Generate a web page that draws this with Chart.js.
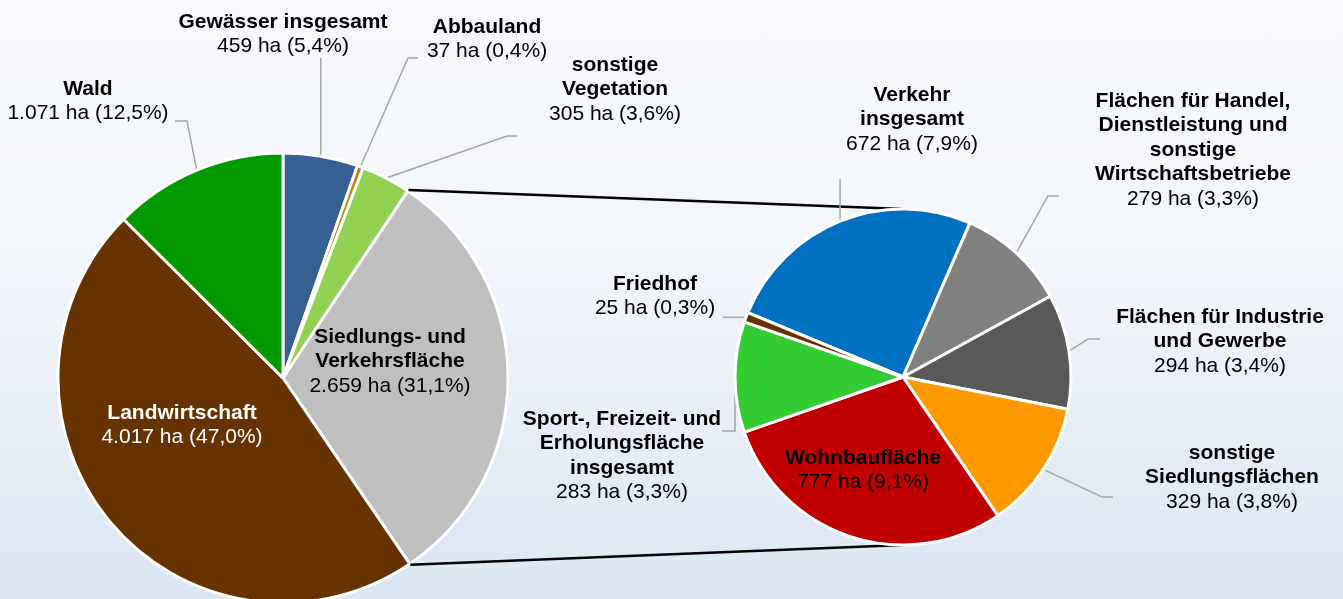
<!DOCTYPE html>
<html lang="de">

<head>
    <meta charset="UTF-8">
    <script src="https://cdn.jsdelivr.net/npm/chart.js@4.4.0/dist/chart.umd.min.js"></script>
    <title>Flächennutzung</title>
    <style>
        body {
            margin: 0;
        }

        #wrap {
            position: relative;
            width: 1343px;
            height: 599px;
            overflow: hidden;
            background: linear-gradient(to bottom, #f6f8fc 0%, #f3f6fb 40%, #dce6f2 100%);
        }

        #wrap canvas {
            position: absolute;
            left: 0;
            top: 0;
        }
    </style>
</head>

<body>
    <div id="wrap">
        <canvas id="leftPie" width="1343" height="599"></canvas>
        <canvas id="rightPie" width="1343" height="599"></canvas>
    </div>
    <script>
        // Hauptkreis
        const leftLabels = [
            ['Gewässer insgesamt'],
            ['Abbauland'],
            ['sonstige', 'Vegetation'],
            ['Siedlungs- und', 'Verkehrsfläche'],
            ['Landwirtschaft'],
            ['Wald']
        ];
        const leftValues = [459, 37, 305, 2659, 4017, 1071];
        const leftColors = ['#366092', '#b8860b', '#92d050', '#bfbfbf', '#663300', '#009900'];

        // Aufteilung Siedlungs- und Verkehrsfläche
        const rightLabels = [
            ['Verkehr', 'insgesamt'],
            ['Flächen für Handel,', 'Dienstleistung und', 'sonstige', 'Wirtschaftsbetriebe'],
            ['Flächen für Industrie', 'und Gewerbe'],
            ['sonstige', 'Siedlungsflächen'],
            ['Wohnbaufläche'],
            ['Sport-, Freizeit- und', 'Erholungsfläche', 'insgesamt'],
            ['Friedhof']
        ];
        const rightValues = [672, 279, 294, 329, 777, 283, 25];
        const rightColors = ['#0070c0', '#808080', '#595959', '#ff9900', '#c00000', '#33cc33', '#663300'];

        const total = leftValues.reduce((a, b) => a + b, 0);

        function fmtHa(v) {
            return String(v).replace(/\B(?=(\d{3})+(?!\d))/g, '.') + ' ha (' +
                (v / total * 100).toFixed(1).replace('.', ',') + '%)';
        }

        const FONT = "'Liberation Sans', Arial, sans-serif";
        const SIZE = 21;
        const LH = 24.5;

        // label layout: text centre x, first line y, text colour, leader points
        // (null in a leader point = take that coordinate from the slice edge point)
        const leftLayout = [
            { x: 283, y: 22, color: '#000', leader: [[null, 58]] },
            { x: 487, y: 27, color: '#000', leader: [[408, 58], [418, 58]] },
            { x: 615, y: 65, color: '#000', leader: [[507, 136], [517, 136]] },
            { x: 390, y: 337, color: '#000' },
            { x: 182, y: 413, color: '#fff' },
            { x: 88, y: 89, color: '#000', leader: [[187, 121], [175, 121]] }
        ];
        const rightLayout = [
            { x: 912, y: 95, color: '#000', leader: [[null, 179]] },
            { x: 1193, y: 101, color: '#000', leader: [[1048, 196], [1059, 196]] },
            { x: 1220, y: 317, color: '#000', leader: [[1088, 339], [1100, 339]] },
            { x: 1232, y: 453, color: '#000', leader: [[1102, 497], [1113, 497]] },
            { x: 863, y: 458, color: '#000' },
            { x: 622, y: 419, color: '#000', leader: [[null, 431], [722, 431]] },
            { x: 655, y: 284, color: '#000', leader: [[723, null]] }
        ];

        function edgePoint(arc) {
            const mid = (arc.startAngle + arc.endAngle) / 2;
            return [arc.x + Math.cos(mid) * arc.outerRadius, arc.y + Math.sin(mid) * arc.outerRadius];
        }

        function labelPlugin(labels, values, layout) {
            return {
                id: 'pieLabels',
                beforeDatasetsDraw(chart) {
                    const ctx = chart.ctx;
                    const arcs = chart.getDatasetMeta(0).data;
                    ctx.save();
                    ctx.strokeStyle = '#a6a6a6';
                    ctx.lineWidth = 1.5;
                    layout.forEach((l, i) => {
                        if (!l.leader) return;
                        const p = edgePoint(arcs[i]);
                        ctx.beginPath();
                        ctx.moveTo(p[0], p[1]);
                        l.leader.forEach(q => ctx.lineTo(q[0] === null ? p[0] : q[0], q[1] === null ? p[1] : q[1]));
                        ctx.stroke();
                    });
                    ctx.restore();
                },
                afterDatasetsDraw(chart) {
                    const ctx = chart.ctx;
                    ctx.save();
                    ctx.textAlign = 'center';
                    ctx.textBaseline = 'middle';
                    layout.forEach((l, i) => {
                        ctx.fillStyle = l.color;
                        let y = l.y;
                        ctx.font = 'bold ' + SIZE + 'px ' + FONT;
                        labels[i].forEach(line => {
                            ctx.fillText(line, l.x, y);
                            y += LH;
                        });
                        ctx.font = SIZE + 'px ' + FONT;
                        ctx.fillText(fmtHa(values[i]), l.x, y);
                    });
                    ctx.restore();
                }
            };
        }

        const commonOptions = {
            responsive: false,
            animation: false,
            events: [],
            plugins: {
                legend: { display: false },
                tooltip: { enabled: false }
            }
        };

        const leftChart = new Chart(document.getElementById('leftPie'), {
            type: 'pie',
            data: {
                labels: leftLabels,
                datasets: [{
                    data: leftValues,
                    backgroundColor: leftColors,
                    borderColor: '#ffffff',
                    borderWidth: 3,
                    clip: false
                }]
            },
            options: Object.assign({}, commonOptions, {
                radius: 225,
                rotation: 0,
                layout: { padding: { left: 0, right: 777, top: 157, bottom: 0 } }
            }),
            plugins: [labelPlugin(leftLabels, leftValues, leftLayout)]
        });

        // black connector lines from the split slice to the second pie
        const connectorPlugin = {
            id: 'connector',
            beforeDatasetsDraw(chart) {
                const src = leftChart.getDatasetMeta(0).data[3];
                const dst = chart.getDatasetMeta(0).data[0];
                const ctx = chart.ctx;
                ctx.save();
                ctx.strokeStyle = '#000';
                ctx.lineWidth = 2.5;
                const r = src.outerRadius + 1;
                ctx.beginPath();
                ctx.moveTo(src.x + Math.cos(src.startAngle) * r, src.y + Math.sin(src.startAngle) * r);
                ctx.lineTo(dst.x, dst.y - dst.outerRadius);
                ctx.moveTo(src.x + Math.cos(src.endAngle) * r, src.y + Math.sin(src.endAngle) * r);
                ctx.lineTo(dst.x, dst.y + dst.outerRadius);
                ctx.stroke();
                ctx.restore();
            }
        };

        const rightTotal = rightValues.reduce((a, b) => a + b, 0);

        new Chart(document.getElementById('rightPie'), {
            type: 'pie',
            data: {
                labels: rightLabels,
                datasets: [{
                    data: rightValues,
                    backgroundColor: rightColors,
                    borderColor: '#ffffff',
                    borderWidth: 3,
                    clip: false
                }]
            },
            options: Object.assign({}, commonOptions, {
                radius: 168,
                // Verkehr slice ends at 23.5 deg past 12 o'clock
                rotation: 23.5 - rightValues[0] / rightTotal * 360,
                layout: { padding: { left: 463, right: 0, top: 155, bottom: 0 } }
            }),
            plugins: [connectorPlugin, labelPlugin(rightLabels, rightValues, rightLayout)]
        });
    </script>
</body>

</html>
